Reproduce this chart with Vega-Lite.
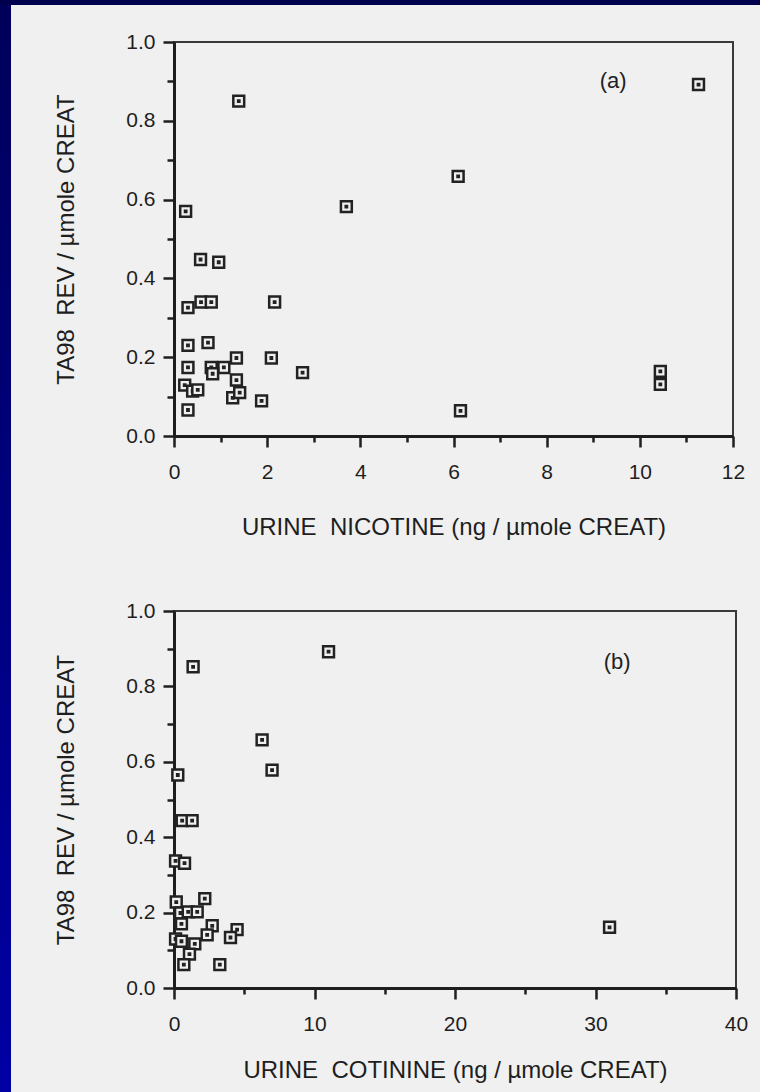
{
  "$schema": "https://vega.github.io/schema/vega-lite/v6.json",
  "padding": 0,
  "background": "#f0f0f0",
  "spacing": 0,
  "datasets": {
    "nicotine": [
      {"nicotine": 1.39, "rev": 0.850}, {"nicotine": 0.25, "rev": 0.570}, {"nicotine": 3.70, "rev": 0.582},
      {"nicotine": 0.57, "rev": 0.448}, {"nicotine": 0.96, "rev": 0.441}, {"nicotine": 0.30, "rev": 0.326},
      {"nicotine": 0.58, "rev": 0.340}, {"nicotine": 0.80, "rev": 0.340}, {"nicotine": 2.16, "rev": 0.340},
      {"nicotine": 0.30, "rev": 0.230}, {"nicotine": 0.73, "rev": 0.237}, {"nicotine": 1.34, "rev": 0.198},
      {"nicotine": 2.09, "rev": 0.198}, {"nicotine": 0.30, "rev": 0.174}, {"nicotine": 0.80, "rev": 0.174},
      {"nicotine": 1.07, "rev": 0.174}, {"nicotine": 0.83, "rev": 0.158}, {"nicotine": 2.76, "rev": 0.161},
      {"nicotine": 1.34, "rev": 0.142}, {"nicotine": 0.23, "rev": 0.129}, {"nicotine": 0.40, "rev": 0.114},
      {"nicotine": 0.51, "rev": 0.117}, {"nicotine": 1.26, "rev": 0.097}, {"nicotine": 1.41, "rev": 0.110},
      {"nicotine": 1.88, "rev": 0.089}, {"nicotine": 0.30, "rev": 0.066}, {"nicotine": 6.10, "rev": 0.659},
      {"nicotine": 6.15, "rev": 0.064}, {"nicotine": 10.44, "rev": 0.164}, {"nicotine": 10.44, "rev": 0.131},
      {"nicotine": 11.26, "rev": 0.892}
    ],
    "cotinine": [
      {"cotinine": 11.0, "rev": 0.892}, {"cotinine": 1.36, "rev": 0.852}, {"cotinine": 6.27, "rev": 0.658},
      {"cotinine": 6.98, "rev": 0.578}, {"cotinine": 0.27, "rev": 0.565}, {"cotinine": 0.58, "rev": 0.444},
      {"cotinine": 1.29, "rev": 0.444}, {"cotinine": 0.11, "rev": 0.337}, {"cotinine": 0.75, "rev": 0.331},
      {"cotinine": 0.16, "rev": 0.228}, {"cotinine": 2.19, "rev": 0.237}, {"cotinine": 0.46, "rev": 0.199},
      {"cotinine": 1.01, "rev": 0.202}, {"cotinine": 1.65, "rev": 0.202}, {"cotinine": 0.53, "rev": 0.170},
      {"cotinine": 2.72, "rev": 0.165}, {"cotinine": 2.36, "rev": 0.141}, {"cotinine": 4.49, "rev": 0.155},
      {"cotinine": 4.02, "rev": 0.134}, {"cotinine": 0.11, "rev": 0.130}, {"cotinine": 0.53, "rev": 0.124},
      {"cotinine": 1.48, "rev": 0.117}, {"cotinine": 1.10, "rev": 0.090}, {"cotinine": 0.70, "rev": 0.062},
      {"cotinine": 3.26, "rev": 0.062}, {"cotinine": 31.0, "rev": 0.161}
    ]
  },
  "vconcat": [
    {
      "width": 760,
      "height": 5,
      "data": {"values": []},
      "mark": "rect",
      "view": {"stroke": null, "fill": "#00004e"}
    },
    {
      "spacing": 42,
      "hconcat": [
        {
          "width": 11,
          "height": 1087,
          "data": {"values": []},
          "mark": "rect",
          "view": {
            "stroke": null,
            "fill": {
              "gradient": "linear", "x1": 0, "y1": 0, "x2": 0, "y2": 1,
              "stops": [{"offset": 0, "color": "#00005a"}, {"offset": 1, "color": "#0000a4"}]
            }
          }
        },
        {
          "spacing": 59,
          "vconcat": [
            {
              "spacing": 24,
              "vconcat": [
                {
                  "width": 1,
                  "height": 1,
                  "data": {"values": []},
                  "mark": "rect",
                  "view": {"stroke": null}
                },
                {
                  "width": 559,
                  "height": 394,
                  "data": {"name": "nicotine"},
                  "title": {"text": "(a)", "orient": "top", "anchor": "end", "baseline": "middle", "offset": -72, "dx": -118},
                  "mark": {
                    "type": "point",
                    "shape": "M-1,-1H1V1H-1Z M-0.12,-0.12H0.12V0.12H-0.12Z",
                    "filled": true, "fill": "#f0f0f0", "stroke": "#222222", "strokeWidth": 2.5, "size": 118, "opacity": 1
                  },
                  "encoding": {
                    "x": {
                      "field": "nicotine", "type": "quantitative",
                      "scale": {"domain": [0, 12], "nice": false, "zero": false},
                      "axis": {
                        "title": "URINE\u00a0 NICOTINE (ng / µmole CREAT)",
                        "values": [0, 1, 2, 3, 4, 5, 6, 7, 8, 9, 10, 11, 12],
                        "tickSize": {"condition": {"test": "datum.value % 2 === 0", "value": 11}, "value": 6},
                        "labelExpr": "datum.value % 2 === 0 ? datum.label : ''",
                        "labelPadding": 14,
                        "titlePadding": 33
                      }
                    },
                    "y": {
                      "field": "rev", "type": "quantitative",
                      "scale": {"domain": [0, 1], "nice": false, "zero": false},
                      "axis": {
                        "title": "TA98\u00a0 REV / µmole CREAT",
                        "values": [0, 0.1, 0.2, 0.3, 0.4, 0.5, 0.6, 0.7, 0.8, 0.9, 1.0],
                        "tickSize": {"condition": {"test": "round(datum.value * 10) % 2 === 0", "value": 11}, "value": 7},
                        "labelExpr": "round(datum.value * 10) % 2 === 0 ? format(datum.value, '.1f') : ''",
                        "labelPadding": 8,
                        "titlePadding": 47
                      }
                    }
                  }
                }
              ]
            },
            {
              "width": 562,
              "height": 377,
              "data": {"name": "cotinine"},
              "title": {"text": "(b)", "orient": "top", "anchor": "end", "baseline": "middle", "offset": -84, "dx": -117},
              "mark": {
                "type": "point",
                "shape": "M-1,-1H1V1H-1Z M-0.12,-0.12H0.12V0.12H-0.12Z",
                "filled": true, "fill": "#f0f0f0", "stroke": "#222222", "strokeWidth": 2.5, "size": 118, "opacity": 1
              },
              "encoding": {
                "x": {
                  "field": "cotinine", "type": "quantitative",
                  "scale": {"domain": [0, 40], "nice": false, "zero": false},
                  "axis": {
                    "title": "URINE\u00a0 COTININE (ng / µmole CREAT)",
                    "values": [0, 5, 10, 15, 20, 25, 30, 35, 40],
                    "tickSize": {"condition": {"test": "datum.value % 10 === 0", "value": 11}, "value": 6},
                    "labelExpr": "datum.value % 10 === 0 ? datum.label : ''",
                    "labelPadding": 14,
                    "titlePadding": 24
                  }
                },
                "y": {
                  "field": "rev", "type": "quantitative",
                  "scale": {"domain": [0, 1], "nice": false, "zero": false},
                  "axis": {
                    "title": "TA98\u00a0 REV / µmole CREAT",
                    "values": [0, 0.1, 0.2, 0.3, 0.4, 0.5, 0.6, 0.7, 0.8, 0.9, 1.0],
                    "tickSize": {"condition": {"test": "round(datum.value * 10) % 2 === 0", "value": 11}, "value": 7},
                    "labelExpr": "round(datum.value * 10) % 2 === 0 ? format(datum.value, '.1f') : ''",
                    "labelPadding": 8,
                    "titlePadding": 47
                  }
                }
              }
            }
          ]
        }
      ]
    }
  ],
  "config": {
    "font": "Liberation Sans",
    "view": {"stroke": "#3a3a3a", "strokeWidth": 2},
    "title": {"font": "Liberation Sans", "fontSize": 22, "fontWeight": "normal", "color": "#222222"},
    "axis": {
      "grid": false,
      "domainColor": "#1e1e1e",
      "domainWidth": 3,
      "tickColor": "#1e1e1e",
      "tickWidth": 2.5,
      "labelFont": "Liberation Sans",
      "labelFontSize": 21,
      "labelColor": "#1e1e1e",
      "labelFlush": false,
      "labelOverlap": false,
      "titleFont": "Liberation Sans",
      "titleFontSize": 24,
      "titleFontWeight": "normal",
      "titleColor": "#1e1e1e"
    }
  }
}
